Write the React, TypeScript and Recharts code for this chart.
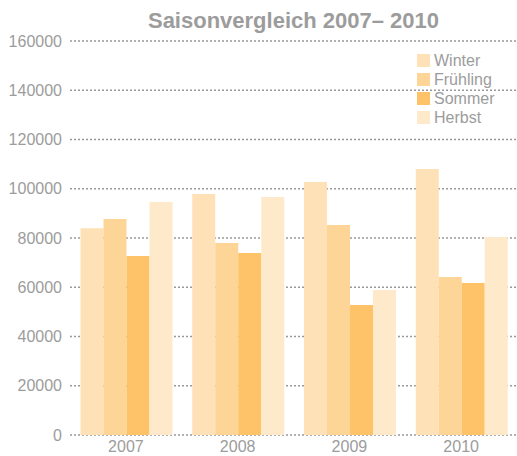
import { Bar, BarChart, CartesianGrid, XAxis, YAxis } from "recharts"

// Saisonvergleich: Werte je Jahr und Jahreszeit.
const years = ["2007", "2008", "2009", "2010"]
const winter = [84000, 97900, 102700, 108000]
const fruehling = [87700, 78000, 85300, 64200]
const sommer = [72700, 73900, 52800, 61700]
const herbst = [94600, 96700, 58900, 80400]
const yTicks = [0, 20000, 40000, 60000, 80000, 100000, 120000, 140000, 160000]

const series = [
  { key: "Winter", color: "#fee1b6" },
  { key: "Frühling", color: "#fdd597" },
  { key: "Sommer", color: "#fec369" },
  { key: "Herbst", color: "#feeacb" },
]

const data = years.map((year, i) => ({
  year,
  Winter: winter[i],
  Frühling: fruehling[i],
  Sommer: sommer[i],
  Herbst: herbst[i],
}))

const font = '"Liberation Sans", Arial, Helvetica, sans-serif'
const gray = "#9c9c9c"

// Jahreszahlen knapp über dem unteren Rand
function YearTick(props: any) {
  const { x, y, payload } = props
  return (
    <text x={x} y={y + 9} textAnchor="middle" fill={gray} fontSize={16} fontFamily={font}>
      {payload.value}
    </text>
  )
}

// Legende als einfache Liste, damit sie keinen Platz im Plot belegt
function LegendList() {
  return (
    <div style={{ position: "absolute", left: 417, top: 51, fontFamily: font, fontSize: 16, color: gray }}>
      {series.map((s) => (
        <div key={s.key} style={{ display: "flex", alignItems: "center", height: 19 }}>
          <span
            style={{ display: "inline-block", width: 13, height: 13, background: s.color, marginRight: 4 }}
          />
          <span>{s.key}</span>
        </div>
      ))}
    </div>
  )
}

export default function App() {
  return (
    <div style={{ position: "absolute", left: 0, top: 0, width: 517, height: 456, background: "#fff", overflow: "hidden" }}>
      <div
        style={{
          position: "absolute",
          left: 70,
          width: 447,
          top: 9,
          textAlign: "center",
          fontFamily: font,
          fontWeight: "bold",
          fontSize: 22,
          color: gray,
          lineHeight: "24px",
          whiteSpace: "nowrap",
        }}
      >
        Saisonvergleich 2007– 2010
      </div>
      <BarChart
        width={517}
        height={456}
        data={data}
        margin={{ top: 41, right: 0, left: 0, bottom: 0 }}
        barCategoryGap="9.4%"
        barGap={0}
      >
        <CartesianGrid vertical={false} stroke="#999" strokeDasharray="2 2" strokeWidth={1.3} />
        <XAxis dataKey="year" axisLine={false} tickLine={false} height={21} tick={<YearTick />} />
        <YAxis
          width={70}
          domain={[0, 160000]}
          ticks={yTicks}
          axisLine={false}
          tickLine={false}
          tick={{ fill: gray, fontSize: 16, fontFamily: font }}
        />
        {series.map((s) => (
          <Bar key={s.key} dataKey={s.key} fill={s.color} isAnimationActive={false} />
        ))}
      </BarChart>
      <LegendList />
    </div>
  )
}
